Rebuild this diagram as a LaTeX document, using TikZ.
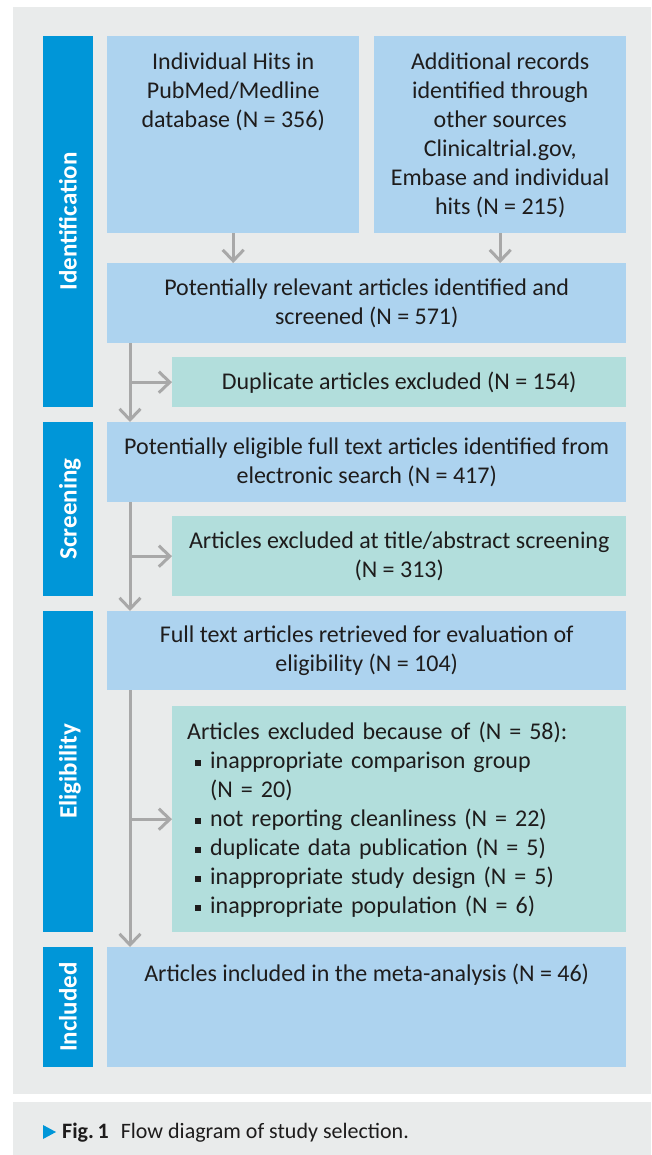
\documentclass[tikz,border=0pt]{standalone}
\usepackage{fontspec}
\setmainfont{Carlito}
\usepackage{tikz}
\usepackage{xcolor}
\usetikzlibrary{arrows.meta,positioning,calc}
\definecolor{sideblue}{RGB}{0,150,216}
\definecolor{boxblue}{RGB}{173,211,239}
\definecolor{boxteal}{RGB}{178,222,220}
\definecolor{panelgray}{RGB}{233,235,235}
\definecolor{arrowgray}{RGB}{168,168,168}
\definecolor{textdark}{RGB}{30,28,28}
\newcommand{\sqb}{\raisebox{2.5pt}{\rule{6pt}{6pt}}}
\newcommand{\bul}{\hspace*{8pt}\makebox[15pt][l]{\sqb}}

\begin{document}
\begin{tikzpicture}[x=1pt,y=-1pt,
    stage/.style={fill=sideblue,rotate=90,text=white,font=\fontsize{25}{30}\selectfont\bfseries,
        minimum height=50pt,inner sep=0pt,text height=17pt,text depth=0pt},
    mainbox/.style={fill=boxblue,inner sep=0pt,text=textdark,font=\fontsize{24}{29}\selectfont,align=center,anchor=north west},
    exclbox/.style={fill=boxteal,inner sep=0pt,text=textdark,font=\fontsize{24}{29}\selectfont,align=center,anchor=north west},
    boxtext/.style={inner sep=0pt,text=textdark,font=\fontsize{24}{29}\selectfont,align=center,anchor=north},
    flow/.style={draw=arrowgray,line width=3pt,-{Straight Barb[length=11pt,width=21pt]}}]
    \useasboundingbox (0,0) rectangle (651,1155);
    \fill[panelgray] (13,7) rectangle (651,1094);
    \fill[panelgray] (13,1102) rectangle (651,1155);

    % stages
    \node[stage,minimum width=371pt] (sIdent) at (68,221.5) {Identification};
    \node[stage,minimum width=174pt] (sScreen) at (68,509) {Screening};
    \node[stage,minimum width=321pt] (sElig) at (68,771.5) {Eligibility};
    \node[stage,minimum width=120pt] (sIncl) at (68,1007) {Included};

    % boxes
    \node[mainbox,minimum width=252pt,minimum height=197pt] (pubmed) at (107,36) {};
    \node[boxtext,yshift=-17pt] (pubmedtxt) at (pubmed.north) {Individual Hits in\\PubMed/Medline\\database (N = 356)};
    \node[mainbox,minimum width=252pt,minimum height=197pt] (other) at (374,36) {};
    \node[boxtext,yshift=-17pt] (othertxt) at (other.north) {Additional records\\identified through\\other sources\\Clinicaltrial.gov,\\Embase and individual\\hits (N = 215)};
    \node[mainbox,minimum width=519pt,minimum height=80pt] (relevant) at (107,263) {Potentially relevant articles identified and\\screened (N = 571)};
    \node[exclbox,minimum width=454pt,minimum height=50pt] (dup) at (172,357) {Duplicate articles excluded (N = 154)};
    \node[mainbox,minimum width=519pt,minimum height=80pt] (screen) at (107,422) {Potentially eligible full text articles identified from\\electronic search (N = 417)};
    \node[exclbox,minimum width=454pt,minimum height=80pt] (titleabs) at (172,516) {Articles excluded at title/abstract screening\\(N = 313)};
    \node[mainbox,minimum width=519pt,minimum height=79pt] (fulltext) at (107,611) {Full text articles retrieved for evaluation of\\eligibility (N = 104)};
    \node[exclbox,align=left,text width=424pt,inner xsep=15pt,minimum width=454pt,minimum height=226pt] (because) at (172,706)
        {Articles excluded because of (N = 58):\\
         \bul inappropriate comparison group\\
         \hspace*{23pt}(N = 20)\\
         \bul not reporting cleanliness (N = 22)\\
         \bul duplicate data publication (N = 5)\\
         \bul inappropriate study design (N = 5)\\
         \bul inappropriate population (N = 6)};
    \node[mainbox,minimum width=519pt,minimum height=120pt] (included) at (107,947) {};
    \node[boxtext,yshift=-17pt] (includedtxt) at (included.north) {Articles included in the meta-analysis (N = 46)};

    % connectors
    \coordinate (trunk) at (130,0);
    \draw[flow] (pubmed.south) -- (pubmed.south |- relevant.north);
    \draw[flow] (other.south) -- (other.south |- relevant.north);
    \draw[flow] (relevant.south -| trunk) -- (screen.north -| trunk);
    \draw[flow] (dup.west -| trunk) -- (dup.west);
    \draw[flow] (screen.south -| trunk) -- (fulltext.north -| trunk);
    \draw[flow] (titleabs.west -| trunk) -- (titleabs.west);
    \draw[flow] (fulltext.south -| trunk) -- (included.north -| trunk);
    \draw[flow] (because.west -| trunk) -- (because.west);

    % caption
    \fill[sideblue] (43,1125) -- (56,1132) -- (43,1139) -- cycle;
    \node[anchor=base west,inner sep=0pt,text=textdark,font=\fontsize{22}{26}\selectfont] (caption) at (62,1138)
        {\textbf{Fig.\,1}\hspace{12pt}Flow diagram of study selection.};
\end{tikzpicture}
\end{document}
